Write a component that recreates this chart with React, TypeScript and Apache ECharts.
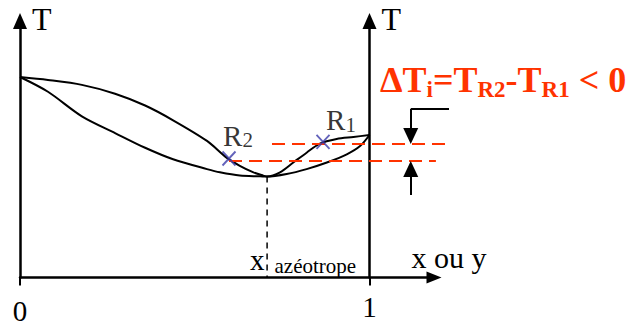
import React, { useEffect, useRef } from "react";
import * as echarts from "echarts";

// ---------- data (x = mole fraction, T = temperature, arbitrary units) ----------
const dewX = [0, 0.08, 0.177, 0.272, 0.358, 0.438, 0.535, 0.591, 0.629, 0.668, 0.696, 0.707, 0.744, 0.782, 0.82, 0.858, 0.906, 0.954, 1];
const dewT = [204, 201, 196, 187, 175, 160, 139, 122, 113.7, 107, 103.7, 102.7, 107, 117, 127, 136.3, 141, 143, 145];
const bubbleX = [0, 0.08, 0.177, 0.272, 0.358, 0.438, 0.535, 0.572, 0.629, 0.687, 0.707, 0.763, 0.82, 0.878, 0.935, 0.973, 1];
const bubbleT = [204, 189, 164, 147, 132, 120.3, 110.3, 107, 103.7, 103, 102.7, 105.3, 110.3, 117, 125.3, 133.7, 145];
const azeotrope = [0.707, 102.7];
const pointNames = ["R2", "R1"];
const pointX = [0.598, 0.867];
const pointT = [121, 138];
// red dashed level lines [xStart, xEnd] at T_R2 and T_R1
const levelR2 = [0.598, 1.19];
const levelR1 = [0.721, 1.236];
// dimension-arrow annotation
const dimX = 1.118;
const dimCapX = 1.2275;
const dimTop = 173;
const dimBottom = 87;
const tickValues = [0, 1];

// ---------- layout / style ----------
const FONT = '"Liberation Serif", "Times New Roman", Times, serif';
const RED = "#ff3300";
const BLUE = "#3c3caa";
const GRID_LEFT = 20;
const GRID_TOP = 21;
const GRID_H = 261;
const X_UNIT_PX = 349.5;
const AXIS_W = 414;
const OVERLAY_W = 440;
const X_MAX = AXIS_W / X_UNIT_PX;
const OVERLAY_MAX = OVERLAY_W / X_UNIT_PX;
const T_MAX = GRID_H;
const ARROW_LEN = 16;

const zip = (xs: number[], ys: number[]) => xs.map((x, i) => [x, ys[i]]);

export default function App() {
  const ref = useRef<HTMLDivElement>(null);
  useEffect(() => {
    if (!ref.current) return;
    const chart = echarts.init(ref.current, null, { renderer: "svg" });

    const yCommon = {
      min: 0,
      max: T_MAX,
      axisTick: { show: false },
      axisLabel: { show: false },
      splitLine: { show: false },
    };
    const axisName = {
      name: "T",
      nameLocation: "end" as const,
      nameGap: 2.5,
      nameTextStyle: {
        fontFamily: FONT,
        fontSize: 32,
        lineHeight: 32,
        color: "#000",
        align: "left" as const,
        verticalAlign: "middle" as const,
        padding: [0, 0, 0, 12],
      },
    };
    const yLine = {
      show: true,
      onZero: false,
      symbol: ["none", "triangle"],
      symbolSize: [14, 16],
      lineStyle: { color: "#000", width: 2.5 },
    };

    const labelRich = {
      m: { fontFamily: FONT, fontSize: 29, lineHeight: 30, color: "#000", verticalAlign: "middle" },
      s: { fontFamily: FONT, fontSize: 21, lineHeight: 21, color: "#000", verticalAlign: "bottom" },
    };
    const labelOffsets = [
      [9, 2],
      [18, 3],
    ];

    const curveStyle = {
      type: "line" as const,
      xAxisIndex: 0,
      yAxisIndex: 0,
      smooth: 0.3,
      showSymbol: false,
      silent: true,
      lineStyle: { color: "#000", width: 2 },
      itemStyle: { color: "#000" },
      z: 3,
    };

    chart.setOption({
      animation: false,
      grid: [
        { left: GRID_LEFT, top: GRID_TOP, width: AXIS_W, height: GRID_H },
        { left: GRID_LEFT, top: GRID_TOP, width: OVERLAY_W, height: GRID_H },
      ],
      xAxis: [
        {
          type: "value",
          gridIndex: 0,
          min: 0,
          max: X_MAX,
          splitLine: { show: false },
          axisLine: {
            show: true,
            onZero: false,
            symbol: ["none", "triangle"],
            symbolSize: [12, 15],
            lineStyle: { color: "#000", width: 2.5 },
          },
          axisTick: {
            show: true,
            customValues: tickValues,
            length: 8,
            lineStyle: { color: "#000", width: 2 },
          },
          axisLabel: {
            show: true,
            customValues: tickValues,
            margin: 15,
            formatter: (v: number) => (v === 0 ? "{z|0}" : "{o|" + v + "}"),
            rich: {
              z: { fontFamily: FONT, fontSize: 29, lineHeight: 29, color: "#000", padding: [7, 0, 0, 0] },
              o: { fontFamily: FONT, fontSize: 29, lineHeight: 29, color: "#000" },
            },
          },
          name: "x ou y",
          nameLocation: "end",
          nameGap: 15,
          nameTextStyle: {
            fontFamily: FONT,
            fontSize: 30,
            lineHeight: 30,
            color: "#000",
            align: "center",
            verticalAlign: "bottom",
            padding: [0, 0, 5, 0],
          },
        },
        { type: "value", gridIndex: 1, min: 0, max: OVERLAY_MAX, show: false },
      ],
      yAxis: [
        { type: "value", gridIndex: 0, position: "left", ...yCommon, axisLine: yLine, ...axisName },
        {
          type: "value",
          gridIndex: 0,
          position: "right",
          offset: X_UNIT_PX - AXIS_W,
          ...yCommon,
          axisLine: yLine,
          ...axisName,
        },
        { type: "value", gridIndex: 1, min: 0, max: T_MAX, show: false },
      ],
      series: [
        { ...curveStyle, name: "dew", data: zip(dewX, dewT) },
        { ...curveStyle, name: "bubble", data: zip(bubbleX, bubbleT) },
        {
          type: "line",
          name: "azeotrope",
          xAxisIndex: 0,
          yAxisIndex: 0,
          data: [
            [azeotrope[0], azeotrope[1]],
            [azeotrope[0], 0],
          ],
          showSymbol: false,
          silent: true,
          lineStyle: { color: "#000", width: 1.5, type: [6, 5] },
          z: 2,
        },
        {
          type: "line",
          name: "level R1",
          xAxisIndex: 1,
          yAxisIndex: 2,
          data: [
            [levelR1[0], pointT[1]],
            [levelR1[1], pointT[1]],
          ],
          showSymbol: false,
          silent: true,
          lineStyle: { color: RED, width: 2, type: [13, 7] },
          z: 4,
        },
        {
          type: "line",
          name: "level R2",
          xAxisIndex: 1,
          yAxisIndex: 2,
          data: [
            [levelR2[0], pointT[0]],
            [levelR2[1], pointT[0]],
          ],
          showSymbol: false,
          silent: true,
          lineStyle: { color: RED, width: 2, type: [13, 7] },
          z: 4,
        },
        {
          type: "line",
          name: "dimension",
          xAxisIndex: 1,
          yAxisIndex: 2,
          data: [
            [dimX, dimTop],
            [dimCapX, dimTop],
          ],
          showSymbol: false,
          silent: true,
          lineStyle: { color: "#000", width: 2 },
          itemStyle: { color: "#000" },
          markLine: {
            silent: true,
            symbol: ["none", "triangle"],
            symbolSize: [15, ARROW_LEN],
            label: { show: false },
            lineStyle: { color: "#000", width: 2, type: "solid" },
            itemStyle: { color: "#000" },
            emphasis: { disabled: true },
            data: [
              [{ coord: [dimX, dimTop] }, { coord: [dimX, pointT[1] + ARROW_LEN / 2] }],
              [{ coord: [dimX, dimBottom] }, { coord: [dimX, pointT[0] - ARROW_LEN / 2] }],
            ],
          },
          z: 4,
        },
        {
          type: "scatter",
          name: "points",
          xAxisIndex: 0,
          yAxisIndex: 0,
          symbol: "path://M0 0L12 12M12 0L0 12",
          symbolSize: [13, 14],
          silent: true,
          itemStyle: { color: "none", borderColor: BLUE, borderWidth: 2 },
          data: pointNames.map((n, i) => ({
            name: n,
            value: [pointX[i], pointT[i]],
            label: {
              show: true,
              position: "top",
              distance: 0,
              color: "#000",
              offset: labelOffsets[i],
              formatter: "{m|" + n.charAt(0) + "}{s|" + n.slice(1) + "}",
              rich: labelRich,
            },
          })),
          z: 6,
        },
      ],
      graphic: [
        {
          type: "text",
          x: 380,
          y: 59,
          silent: true,
          style: {
            text: "{m|ΔT}{s|i}{m|=T}{s|R2}{m|-T}{s|R1}{m| < 0}",
            verticalAlign: "top",
            rich: {
              m: { fontFamily: FONT, fontWeight: "bold", fontSize: 36, lineHeight: 42, fill: RED, verticalAlign: "middle" },
              s: { fontFamily: FONT, fontWeight: "bold", fontSize: 23, lineHeight: 23, fill: RED, verticalAlign: "bottom" },
            },
          },
        },
        {
          type: "text",
          x: 250,
          y: 244,
          silent: true,
          style: {
            text: "{a|x}{b|azéotrope}",
            verticalAlign: "top",
            rich: {
              a: { fontFamily: FONT, fontSize: 29, lineHeight: 32, fill: "#000", verticalAlign: "middle" },
              b: { fontFamily: FONT, fontSize: 21, lineHeight: 21, fill: "#000", verticalAlign: "bottom", padding: [0, 0, 0, 10] },
            },
          },
        },
      ],
    });
    return () => chart.dispose();
  }, []);
  return (
    <div
      ref={ref}
      style={{ position: "absolute", left: 0, top: 0, width: 632, height: 325, background: "#fff" }}
    />
  );
}
